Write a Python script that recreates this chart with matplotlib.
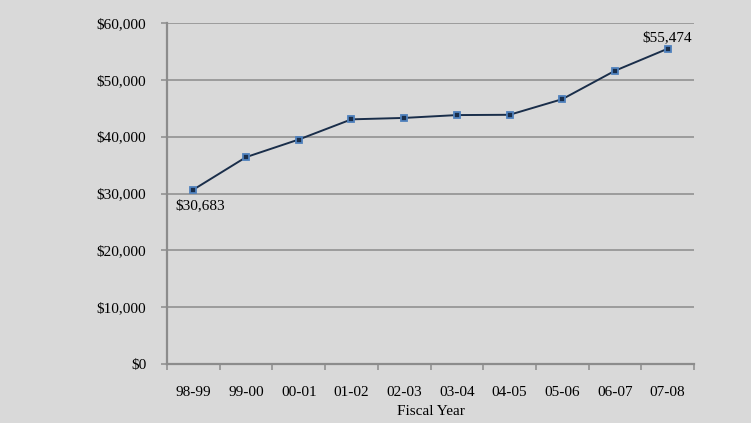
import matplotlib.pyplot as plt
import numpy as np
from matplotlib.ticker import FuncFormatter

years = ['98-99', '99-00', '00-01', '01-02', '02-03', '03-04', '04-05', '05-06', '06-07', '07-08']
values = [30683, 36400, 39500, 43050, 43300, 43800, 43850, 46600, 51600, 55474]

plt.rcParams['font.family'] = ['Liberation Serif', 'DejaVu Serif']

bg = '#d9d9d9'
fig = plt.figure(figsize=(7.51, 4.23), dpi=100, facecolor=bg)
ax = fig.add_axes([0.2224, 0.1395, 0.7017, 0.8061], facecolor=bg)

x = np.arange(len(years))
ax.plot(x, values, color='#1a2e4a', lw=1.4, marker='s', ms=5,
        mfc='#1a2e4a', mec='#4f81bd', mew=1.3, zorder=3)

ax.set_xlim(-0.5, len(years) - 0.5)
ax.set_ylim(0, 60000)
ax.set_yticks(range(0, 60001, 10000))
ax.yaxis.set_major_formatter(FuncFormatter(lambda v, p: '${:,.0f}'.format(v)))
ax.grid(axis='y', color='#8c8c8c', lw=1.1)
ax.set_axisbelow(True)

ax.set_xticks(x)
ax.set_xticklabels(years)
ax.set_xticks(np.arange(-0.5, len(years)), minor=True)
ax.tick_params(axis='x', which='major', length=0, pad=16, labelsize=11)
ax.tick_params(axis='x', which='minor', length=4, color='#8c8c8c', width=1.1)
ax.tick_params(axis='y', length=4, color='#8c8c8c', width=1.1, labelsize=11, pad=11)

for s in ['top', 'right']:
    ax.spines[s].set_visible(False)
for s in ['left', 'bottom']:
    ax.spines[s].set_color('#8c8c8c')
    ax.spines[s].set_linewidth(1.6)

ax.set_xlabel('Fiscal Year', fontsize=11, labelpad=4)

ax.annotate('${:,}'.format(values[0]), (x[0], values[0]), xytext=(-13, -7),
            textcoords='offset points', ha='left', va='top', fontsize=11)
ax.annotate('${:,}'.format(values[-1]), (x[-1], values[-1]), xytext=(0, 3),
            textcoords='offset points', ha='center', va='bottom', fontsize=11)

fig.savefig('out.png', dpi=100, facecolor=bg)
